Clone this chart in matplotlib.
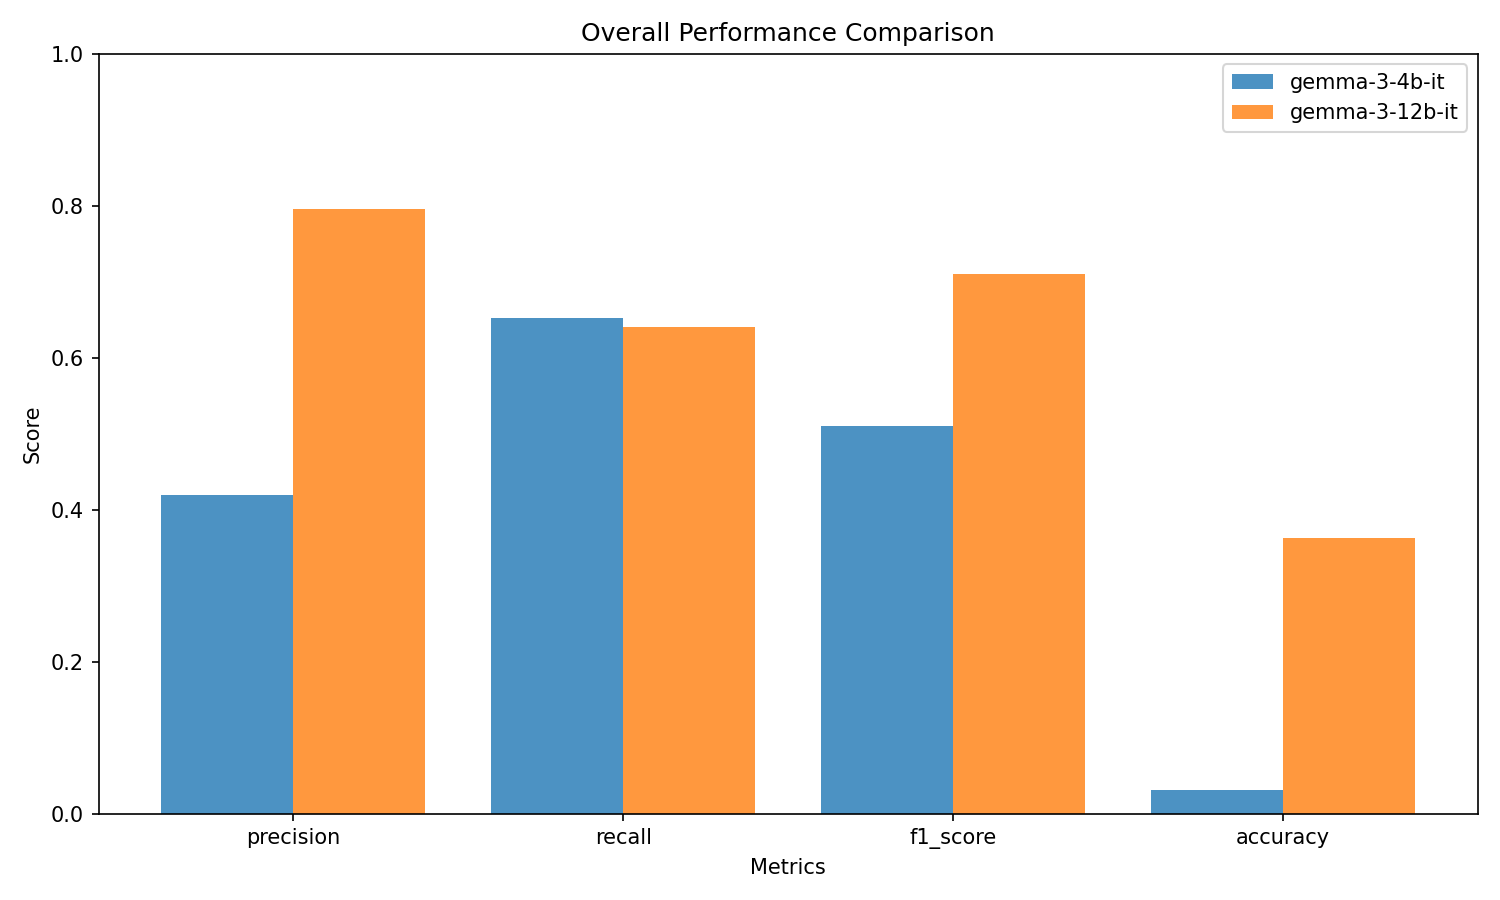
import numpy as np
import matplotlib
matplotlib.use("Agg")
import matplotlib.pyplot as plt

# scores
metrics = ["precision", "recall", "f1_score", "accuracy"]
models = ["gemma-3-4b-it", "gemma-3-12b-it"]
scores_4b = [0.419, 0.653, 0.510, 0.031]
scores_12b = [0.796, 0.641, 0.711, 0.363]


def draw_chart():
    fig, ax = plt.subplots(figsize=(10, 6), dpi=150)
    x = np.arange(len(metrics))
    width = 0.4
    ax.bar(x - width / 2, scores_4b, width, label=models[0], color="tab:blue", alpha=0.8)
    ax.bar(x + width / 2, scores_12b, width, label=models[1], color="tab:orange", alpha=0.8)
    ax.set_xticks(x)
    ax.set_xticklabels(metrics)
    ax.set_ylim(0, 1.0)
    ax.set_xlabel("Metrics")
    ax.set_ylabel("Score")
    ax.set_title("Overall Performance Comparison")
    ax.legend(loc="upper right")
    fig.tight_layout()
    fig.savefig("out.png")


if __name__ == '__main__':
    draw_chart()
